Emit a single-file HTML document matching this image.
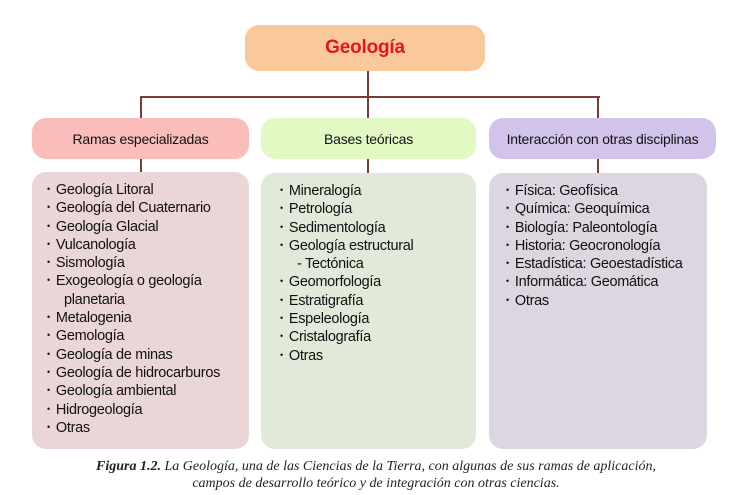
<!DOCTYPE html>
<html><head><meta charset="utf-8"><style>
body{margin:0;width:752px;height:495px;background:#fff;position:relative;font-family:"Liberation Sans",sans-serif;overflow:hidden}
.b{position:absolute;box-sizing:border-box;border-radius:14px}
.h{display:flex;align-items:center;justify-content:center;font-size:14px;color:#111;letter-spacing:-0.2px}
.l{position:absolute;background:#7b3b36}
ul{margin:0;padding:0;list-style:none;position:absolute;left:15px;top:9px;font-size:14.5px;color:#111;letter-spacing:-0.3px}
li{height:18.3px;line-height:18.3px;white-space:nowrap}
li:before{content:"•";font-size:9px;line-height:0;margin-right:6px;position:relative;top:-2px}
li.c{padding-left:11px}
li.c:before{content:""}
.cap{position:absolute;left:0;width:752px;text-align:center;font-family:"Liberation Serif",serif;font-style:italic;font-size:14px;color:#222;line-height:17px}
</style></head><body>
<div class="b h" style="left:245px;top:25px;width:240px;height:46px;background:#f9c89b;color:#e8141c;font-weight:bold;font-size:19px">Geología</div>
<div class="l" style="left:367px;top:71px;width:2px;height:48px"></div>
<div class="l" style="left:140px;top:96px;width:460px;height:2px"></div>
<div class="l" style="left:140px;top:96px;width:2px;height:77px"></div>
<div class="l" style="left:597px;top:96px;width:2px;height:77px"></div>
<div class="l" style="left:367px;top:150px;width:2px;height:23px"></div>
<div class="b h" style="left:32px;top:118px;width:217px;height:41px;background:#fbbcbc">Ramas especializadas</div>
<div class="b h" style="left:261px;top:118px;width:215px;height:41px;background:#e3f9c4">Bases teóricas</div>
<div class="b h" style="left:489px;top:118px;width:227px;height:41px;background:#d2c3ea">Interacción con otras disciplinas</div>
<div class="b" style="left:32px;top:172px;width:217px;height:277px;background:#ead5d7"><ul>
<li>Geología Litoral</li><li>Geología del Cuaternario</li><li>Geología Glacial</li><li>Vulcanología</li><li>Sismología</li><li>Exogeología o geología</li><li class="c">planetaria</li><li>Metalogenia</li><li>Gemología</li><li>Geología de minas</li><li>Geología de hidrocarburos</li><li>Geología ambiental</li><li>Hidrogeología</li><li>Otras</li></ul></div>
<div class="b" style="left:261px;top:173px;width:215px;height:276px;background:#e1e9d8"><ul style="left:19px">
<li>Mineralogía</li><li>Petrología</li><li>Sedimentología</li><li>Geología estructural</li><li class="c">- Tectónica</li><li>Geomorfología</li><li>Estratigrafía</li><li>Espeleología</li><li>Cristalografía</li><li>Otras</li></ul></div>
<div class="b" style="left:489px;top:173px;width:218px;height:276px;background:#dcd6e1"><ul style="left:17px">
<li>Física: Geofísica</li><li>Química: Geoquímica</li><li>Biología: Paleontología</li><li>Historia: Geocronología</li><li>Estadística: Geoestadística</li><li>Informática: Geomática</li><li>Otras</li></ul></div>
<div class="cap" style="top:458px"><b>Figura 1.2.</b> La Geología, una de las Ciencias de la Tierra, con algunas de sus ramas de aplicación,</div>
<div class="cap" style="top:475px">campos de desarrollo teórico y de integración con otras ciencias.</div>
</body></html>
